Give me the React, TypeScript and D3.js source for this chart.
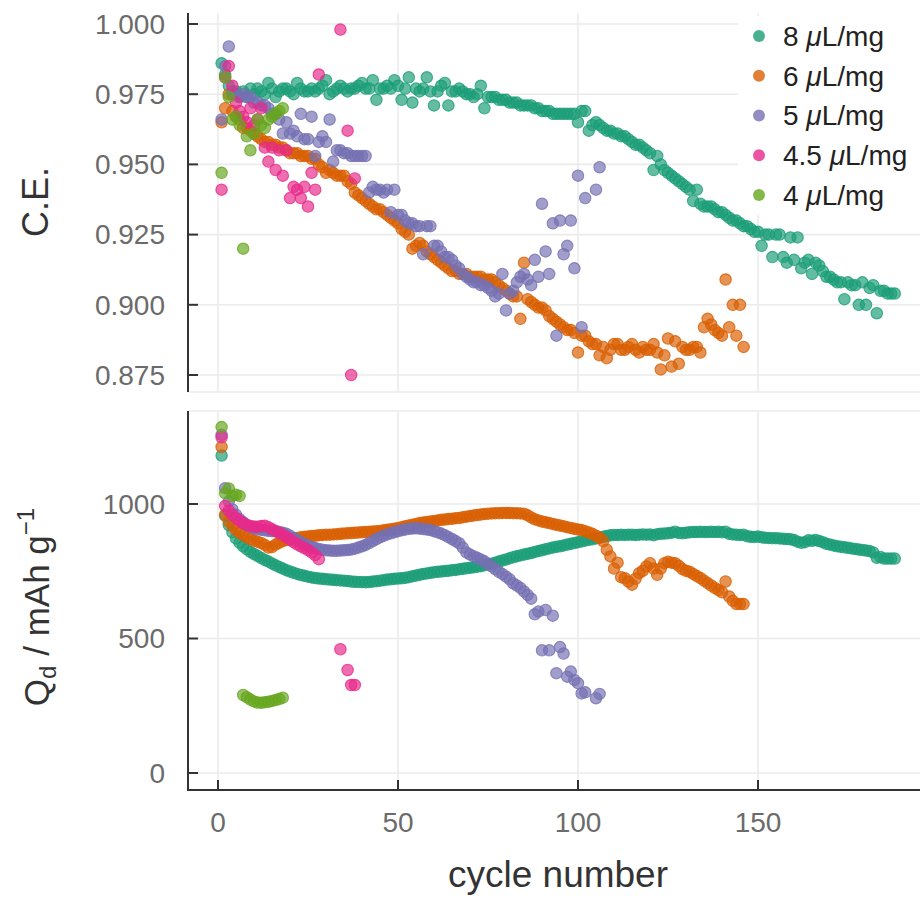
import React from "react";
import * as d3 from "d3";

// ---------- data ----------
const seriesNames = ["8", "6", "5", "4.5", "4"];
const seriesColors = ["#1b9e77", "#d95f02", "#7570b3", "#e7298a", "#66a61e"];
const xTicks = [0, 50, 100, 150];
const ceTicks = [0.875, 0.9, 0.925, 0.95, 0.975, 1.0];
const qTicks = [0, 500, 1000];

// Coulombic efficiency per cycle (index 0 = cycle 1)
const ce8 = [0.986,0.982,0.978,0.975,0.976,0.974,0.976,0.974,0.977,0.975,
 0.977,0.976,0.975,0.979,0.977,0.974,0.976,0.977,0.977,0.976,
 0.975,0.979,0.977,0.976,0.976,0.977,0.976,0.977,0.978,0.980,
 0.975,0.976,0.977,0.978,0.977,0.976,0.977,0.977,0.978,0.979,
 0.977,0.977,0.980,0.973,0.977,0.977,0.978,0.977,0.980,0.978,
 0.973,0.977,0.981,0.972,0.977,0.976,0.977,0.981,0.976,0.971,
 0.976,0.978,0.979,0.971,0.976,0.976,0.977,0.976,0.975,0.975,
 0.974,0.975,0.978,0.970,0.974,0.974,0.974,0.973,0.973,0.973,
 0.972,0.972,0.972,0.971,0.971,0.971,0.971,0.970,0.970,0.969,
 0.969,0.969,0.968,0.968,0.968,0.968,0.968,0.968,0.968,0.965,
 0.969,0.969,0.962,0.964,0.965,0.964,0.963,0.962,0.962,0.961,
 0.961,0.960,0.960,0.959,0.958,0.957,0.957,0.956,0.955,0.954,
 0.948,0.953,0.950,0.948,0.947,0.946,0.945,0.944,0.943,0.942,
 0.941,0.937,0.941,0.936,0.935,0.935,0.935,0.934,0.933,0.933,
 0.932,0.931,0.930,0.930,0.929,0.928,0.928,0.927,0.926,0.926,
 0.921,0.925,0.925,0.917,0.925,0.925,0.917,0.915,0.924,0.916,
 0.924,0.913,0.915,0.916,0.911,0.915,0.914,0.912,0.910,0.910,
 0.909,0.908,0.908,0.902,0.908,0.907,0.907,0.900,0.908,0.900,
 0.906,0.907,0.897,0.905,0.905,0.904,0.904,0.904];
const ce6 = [0.965,0.970,0.975,0.969,0.967,0.966,0.963,0.963,0.962,0.961,
 0.960,0.959,0.958,0.958,0.957,0.957,0.956,0.956,0.955,0.954,
 0.954,0.954,0.953,0.953,0.953,0.952,0.952,0.950,0.949,0.947,
 0.948,0.947,0.946,0.946,0.946,0.944,0.943,0.940,0.939,0.938,
 0.937,0.936,0.935,0.934,0.934,0.933,0.932,0.931,0.930,0.929,
 0.927,0.926,0.925,0.920,0.921,0.922,0.921,0.919,0.918,0.917,
 0.916,0.915,0.914,0.913,0.912,0.912,0.911,0.911,0.911,0.910,
 0.910,0.910,0.910,0.909,0.909,0.909,0.908,0.907,0.906,0.905,
 0.904,0.903,0.903,0.895,0.915,0.902,0.901,0.900,0.899,0.899,
 0.898,0.896,0.895,0.894,0.893,0.892,0.891,0.891,0.890,0.883,
 0.889,0.889,0.887,0.886,0.886,0.882,0.885,0.881,0.884,0.886,
 0.886,0.884,0.884,0.885,0.886,0.884,0.883,0.885,0.884,0.884,
 0.886,0.883,0.877,0.882,0.888,0.878,0.887,0.879,0.885,0.884,
 0.884,0.885,0.885,0.883,0.892,0.895,0.893,0.891,0.890,0.889,
 0.909,0.892,0.900,0.889,0.900,0.885];
const ce5 = [0.966,0.985,0.992,0.976,0.975,0.974,0.975,0.974,0.974,0.972,
 0.972,0.971,0.971,0.970,0.968,0.968,0.966,0.961,0.965,0.961,
 0.962,0.960,0.968,0.959,0.959,0.967,0.953,0.958,0.960,0.958,
 0.966,0.951,0.955,0.955,0.954,0.954,0.953,0.953,0.953,0.953,
 0.953,0.940,0.942,0.941,0.941,0.940,0.941,0.933,0.941,0.932,
 0.932,0.930,0.929,0.929,0.928,0.928,0.918,0.928,0.928,0.921,
 0.921,0.919,0.917,0.917,0.916,0.914,0.913,0.911,0.910,0.909,
 0.908,0.908,0.907,0.907,0.906,0.905,0.903,0.904,0.911,0.898,
 0.904,0.905,0.908,0.910,0.911,0.909,0.907,0.916,0.910,0.936,
 0.919,0.911,0.929,0.889,0.930,0.918,0.921,0.930,0.913,0.946,
 0.892,0.938,null,null,0.941,0.949];
const ce45 = [0.941,0.981,0.985,0.978,0.972,0.969,0.967,0.965,0.970,0.964,
 0.966,0.970,0.956,0.951,0.956,0.948,0.955,0.946,0.955,0.938,
 0.942,0.941,0.938,0.942,0.935,0.947,0.941,0.982,null,null,
 null,null,null,0.998,null,0.962,0.875,0.945];
const ce4 = [0.947,0.981,0.974,0.966,0.967,0.964,0.920,0.960,0.955,0.961,
 0.966,0.964,0.963,0.966,0.967,0.968,0.969,0.970];

// Discharge capacity per cycle (mAh/g)
const q8 = [1180,956,922,895,872,856,843,832,822,814,
 807,799,792,786,779,772,766,760,754,749,
 744,740,736,733,730,727,725,723,722,720,
 719,718,717,716,715,714,712,711,710,710,
 709,710,712,713,715,717,719,720,722,723,
 724,726,728,731,734,737,740,742,744,746,
 748,749,751,752,754,755,757,759,761,763,
 765,767,769,772,775,778,782,786,790,794,
 798,802,806,809,812,815,818,822,825,828,
 832,835,838,841,843,846,849,852,855,858,
 861,864,867,869,872,875,878,881,884,885,
 885,886,885,886,886,885,886,887,886,887,
 884,888,889,890,891,893,897,892,891,893,
 895,896,896,897,896,896,897,896,897,895,
 897,889,887,886,885,886,880,878,877,879,
 876,875,874,873,873,872,871,870,869,866,
 860,856,858,865,863,866,862,858,852,849,
 846,843,841,839,837,835,833,831,829,827,
 825,820,800,803,797,797,797,797];
const q6 = [1212,960,935,918,903,893,884,877,870,864,
 860,855,848,838,840,849,856,862,866,869,
 872,874,876,878,879,881,882,884,885,886,
 886,887,888,889,890,891,892,893,894,895,
 896,897,898,899,900,902,904,906,908,911,
 914,917,920,923,926,929,931,933,935,937,
 939,941,942,944,945,947,948,951,953,955,
 957,959,961,963,964,965,966,966,967,967,
 967,966,966,965,964,958,950,943,939,935,
 932,929,926,923,920,917,914,911,908,905,
 903,899,894,889,882,875,862,830,805,760,
 782,728,724,712,700,722,743,752,768,780,
 760,737,760,780,785,782,780,770,758,752,
 748,740,732,725,715,706,697,688,680,672,
 712,656,640,628,628,628];
const q5 = [1257,1059,1010,980,960,944,932,922,915,910,
 906,904,902,900,899,898,896,893,889,882,
 874,866,858,851,845,840,836,833,830,828,
 827,826,826,827,828,829,831,834,838,843,
 848,855,862,870,876,882,887,891,895,899,
 902,905,908,909,910,909,907,905,903,899,
 895,890,884,877,870,862,854,838,820,812,
 806,800,794,787,778,768,758,748,740,730,
 720,705,697,688,675,662,648,590,600,456,
 606,456,585,371,468,444,358,377,346,334,
 296,300,null,null,278,294];
const q45 = [1248,993,975,960,948,938,928,922,918,916,
 915,918,919,914,906,900,893,885,877,868,
 858,850,843,836,829,820,810,795,null,null,
 null,null,null,460,null,383,327,327];
const q4 = [1286,1040,1058,1030,1034,1030,290,282,273,266,
 262,261,263,265,268,271,275,280];

const ceSeries = [ce8, ce6, ce5, ce45, ce4];
const qSeries = [q8, q6, q5, q45, q4];

// ---------- layout ----------
const W = 920;
const H = 899;
const FONT = "'Liberation Sans', Arial, Helvetica, sans-serif";
const left = 188;
const right = 920;
const topP = { top: 13, bottom: 392 };
const botP = { top: 411, bottom: 790 };

const x = d3.scaleLinear().domain([0, 150]).range([218, 758]);
const yCE = d3.scaleLinear().domain([0.875, 1.0]).range([375, 24]);
const yQ = d3.scaleLinear().domain([0, 1000]).range([773, 504]);

const GRID = "#ebebeb";
const AXIS = "#333";
const TICK_TXT = "#6b6b6b";

function Points({ data, y }: { data: (number | null)[][]; y: d3.ScaleLinear<number, number> }) {
  return (
    <g>
      {data.map((arr, si) => (
        <g key={si} fill={seriesColors[si]} fillOpacity={0.68} stroke={seriesColors[si]} strokeOpacity={0.8} strokeWidth={1.1}>
          {arr.map((v, i) =>
            v == null ? null : <circle key={i} cx={x(i + 1)} cy={y(v)} r={5.7} />
          )}
        </g>
      ))}
    </g>
  );
}

function Panel({ p, y, ticks, fmt }: { p: { top: number; bottom: number }; y: any; ticks: number[]; fmt: (v: number) => string }) {
  return (
    <g>
      {xTicks.map((t) => (
        <line key={"vx" + t} x1={x(t)} x2={x(t)} y1={p.top} y2={p.bottom} stroke={GRID} strokeWidth={1.6} />
      ))}
      {ticks.map((t) => (
        <line key={"hy" + t} x1={left} x2={right} y1={y(t)} y2={y(t)} stroke={GRID} strokeWidth={1.6} />
      ))}
      {ticks.map((t) => (
        <g key={"t" + t}>
          <line x1={left} x2={left + 10} y1={y(t)} y2={y(t)} stroke={AXIS} strokeWidth={2} />
          <text x={165} y={y(t)} dy="0.35em" textAnchor="end" fontSize={28} fill={TICK_TXT} fontFamily={FONT}>
            {fmt(t)}
          </text>
        </g>
      ))}
    </g>
  );
}

export default function App() {
  const legendY0 = 36;
  const legendDy = 39.75;
  return (
    <svg width={W} height={H} style={{ position: "absolute", left: 0, top: 0, background: "#fff" }}>
      <rect width={W} height={H} fill="#fff" />
      {/* panel separators */}
      <line x1={left} x2={right} y1={topP.bottom} y2={topP.bottom} stroke={GRID} strokeWidth={1.6} />
      <line x1={left} x2={right} y1={botP.top} y2={botP.top} stroke={GRID} strokeWidth={1.6} />

      <Panel p={topP} y={yCE} ticks={ceTicks} fmt={d3.format(".3f")} />
      <Panel p={botP} y={yQ} ticks={qTicks} fmt={d3.format("d")} />

      {/* legend background */}
      <rect x={738} y={16} width={182} height={199} fill="#fff" />

      <Points data={ceSeries} y={yCE} />
      <Points data={qSeries} y={yQ} />

      {/* axes lines */}
      <line x1={left} x2={left} y1={topP.top} y2={topP.bottom} stroke={AXIS} strokeWidth={2} />
      <line x1={left} x2={left} y1={botP.top} y2={botP.bottom} stroke={AXIS} strokeWidth={2} />
      <line x1={left - 1} x2={right} y1={botP.bottom} y2={botP.bottom} stroke={AXIS} strokeWidth={2} />
      {xTicks.map((t) => (
        <g key={"xt" + t}>
          <line x1={x(t)} x2={x(t)} y1={botP.bottom - 10} y2={botP.bottom} stroke={AXIS} strokeWidth={2} />
          <text x={x(t)} y={832} textAnchor="middle" fontSize={28} fill={TICK_TXT} fontFamily={FONT}>
            {t}
          </text>
        </g>
      ))}

      {/* axis titles */}
      <text x={558} y={887} textAnchor="middle" fontSize={37} fill="#333" fontFamily={FONT}>
        cycle number
      </text>
      <text transform="translate(48,202) rotate(-90)" textAnchor="middle" fontSize={36} fill="#333" fontFamily={FONT}>
        C.E.
      </text>
      <text transform="translate(49,607) rotate(-90)" textAnchor="middle" fontSize={35} fill="#333" fontFamily={FONT}>
        Q<tspan fontSize={24} dy={7}>d</tspan>
        <tspan dy={-7}> / mAh g</tspan>
        <tspan fontSize={24} dy={-15}>−1</tspan>
      </text>

      {/* legend */}
      {seriesNames.map((n, i) => (
        <g key={"lg" + n}>
          <circle cx={759} cy={legendY0 + i * legendDy} r={6} fill={seriesColors[i]} fillOpacity={0.8} />
          <text x={783} y={legendY0 + i * legendDy} dy="0.35em" fontSize={28} fill="#222" fontFamily={FONT}>
            {n + " "}
            <tspan fontStyle="italic">μ</tspan>
            L/mg
          </text>
        </g>
      ))}
    </svg>
  );
}
